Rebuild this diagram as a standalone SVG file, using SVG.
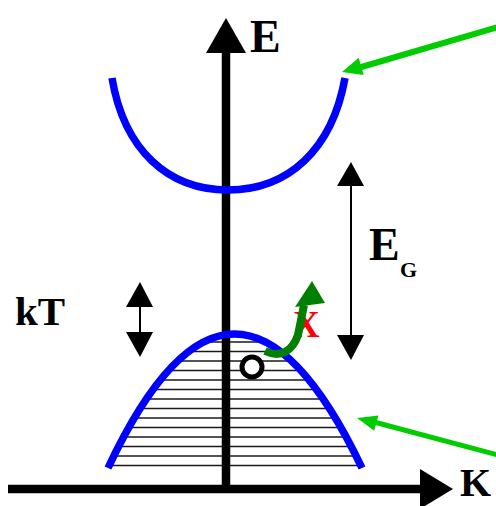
<svg xmlns="http://www.w3.org/2000/svg" width="496" height="506" viewBox="0 0 496 506">
<style>
.band{fill:none;stroke:#0000ff;stroke-width:7.5;stroke-linecap:butt}
.axis{stroke:#000;stroke-width:8.5}
.thin{stroke:#000;stroke-width:2}
.hatch{stroke:#1a1a1a;stroke-width:1.7}
.lbl{font-family:"Liberation Serif","Times New Roman",serif;font-weight:bold;fill:#000}
</style>
<defs>
<clipPath id="vb"><path d="M108,468 Q234,200 362,468 Z"/></clipPath>
</defs>
<rect width="496" height="506" fill="#fff"/>
<g id="hatching" clip-path="url(#vb)">
<line class="hatch" x1="100" y1="342" x2="370" y2="342"/>
<line class="hatch" x1="100" y1="351.5" x2="370" y2="351.5"/>
<line class="hatch" x1="100" y1="361" x2="370" y2="361"/>
<line class="hatch" x1="100" y1="370.5" x2="370" y2="370.5"/>
<line class="hatch" x1="100" y1="380" x2="370" y2="380"/>
<line class="hatch" x1="100" y1="389.5" x2="370" y2="389.5"/>
<line class="hatch" x1="100" y1="399" x2="370" y2="399"/>
<line class="hatch" x1="100" y1="408.5" x2="370" y2="408.5"/>
<line class="hatch" x1="100" y1="418" x2="370" y2="418"/>
<line class="hatch" x1="100" y1="427.5" x2="370" y2="427.5"/>
<line class="hatch" x1="100" y1="437" x2="370" y2="437"/>
<line class="hatch" x1="100" y1="446.5" x2="370" y2="446.5"/>
<line class="hatch" x1="100" y1="456" x2="370" y2="456"/>
<line class="hatch" x1="100" y1="465.5" x2="370" y2="465.5"/>
</g>
<g id="axes">
<line class="axis" x1="226" y1="492" x2="226" y2="50"/>
<polygon points="226,18 206,53 246,53"/>
<line class="axis" x1="8" y1="489" x2="424" y2="489"/>
<polygon points="453,489 420,469 420,509"/>
</g>
<g id="conduction-band"><path class="band" d="M112,78 C124,150 168,190 228,190 C288,190 332,150 345,78"/></g>
<g id="valence-band"><path class="band" d="M108,468 Q234,200 362,468"/></g>
<g id="hole"><circle cx="252" cy="367" r="10" fill="#fff" stroke="#000" stroke-width="5"/></g>
<g id="kT">
<line class="thin" x1="140" y1="300" x2="140" y2="340"/>
<polygon points="140,282 126,307 153,307"/>
<polygon points="140,357 126,332 153,332"/>
<text class="lbl" x="15" y="325" font-size="41">kT</text>
</g>
<g id="EG">
<line class="thin" x1="351" y1="180" x2="351" y2="340"/>
<polygon points="351,162 337,186 364,186"/>
<polygon points="351,360 337,335 364,335"/>
<text class="lbl" x="369" y="260" font-size="46">E</text>
<text class="lbl" x="400" y="277" font-size="22">G</text>
</g>
<g id="labels">
<text class="lbl" x="460" y="496" font-size="40">K</text>
<text class="lbl" x="250" y="52" font-size="46">E</text>
</g>
<g id="transition">
<text class="lbl" x="293" y="337" font-size="37" style="fill:#ff0000">X</text>
<path d="M265,351 C280,358 292,352 298,335 L304,305" fill="none" stroke="#008000" stroke-width="8"/>
<polygon points="312,281 295,307 325,303" fill="#008000"/>
</g>
<g id="connectors">
<line x1="498" y1="27" x2="358" y2="68" stroke="#00cc00" stroke-width="6"/>
<polygon points="342,72 358.7,57.8 363.7,75" fill="#00cc00"/>
<line x1="498" y1="455" x2="374" y2="422" stroke="#00cc00" stroke-width="5"/>
<polygon points="357,418 378.4,415.4 374.2,430.8" fill="#00cc00"/>
</g>
</svg>
